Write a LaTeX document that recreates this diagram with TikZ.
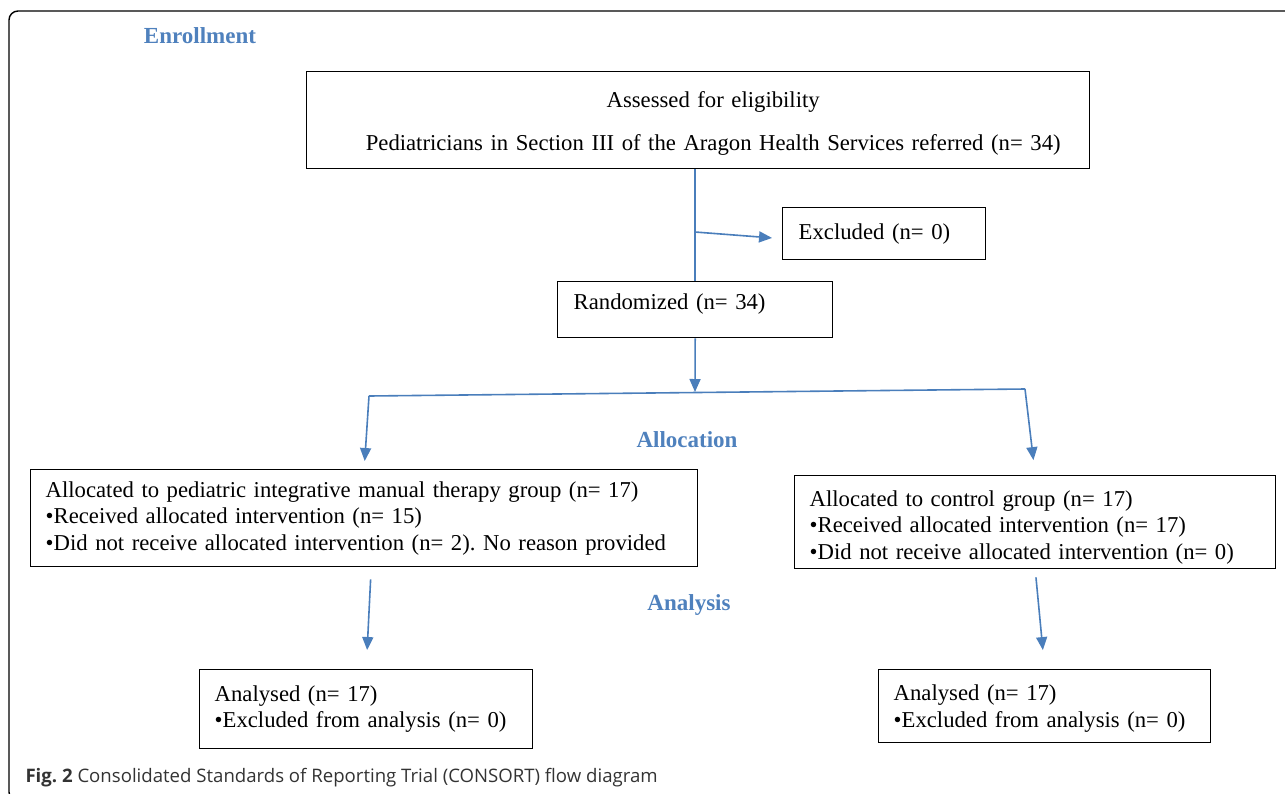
\documentclass[tikz,border=0pt]{standalone}
\usepackage{fontspec}
\setmainfont{Liberation Serif}
\newfontfamily\capfont{Open Sans}
\usepackage{tikz}
\usetikzlibrary{arrows.meta}
\usetikzlibrary{positioning}
\definecolor{phase}{RGB}{79,129,189}
\definecolor{flow}{RGB}{74,126,187}
\frenchspacing

\begin{document}
\begin{tikzpicture}[x=1pt, y=-1pt,
    every node/.append style={font=\fontsize{22.7}{26.5}\selectfont},
    box/.style={draw, line width=1.4pt, rectangle, anchor=north west, align=left,
                inner xsep=15pt, inner ysep=0pt},
    phase/.style={text=phase, font=\bfseries\fontsize{23}{26}\selectfont},
    flow/.style={draw=flow, line width=1.6pt},
    arr/.style={flow, -{Triangle[width=11pt,length=13pt]}}]
  \useasboundingbox (0,0) rectangle (1285,793);

  % frame
  \draw[line width=1.4pt, rounded corners=9pt] (22,801) -- (9,801) -- (9,11) -- (1295,11);

  \node (enrol) [phase] at (200,36) {Enrollment};
  \node (alloc) [phase] at (687,440) {Allocation};
  \node (anal)  [phase] at (689,605) {Analysis};

  \node (assess) [box, align=center, text width=753pt, minimum height=97pt] at (306,71)
        {\hspace*{30pt}\rule{0pt}{22pt}Assessed for eligibility\\[16pt]
         \hspace*{30pt}Pediatricians in Section III of the Aragon Health Services referred (n= 34)};
  \node (excluded) [box, inner xsep=16pt, text width=171pt, minimum height=52pt] at (782,207)
        {Excluded (n= 0)};
  \node (random) [box, inner xsep=16pt, text width=243pt, minimum height=56pt,
                  text height=16pt, text depth=16pt] at (557,281)
        {Randomized (n= 34)};

  \node (group1) [box, text width=637pt, minimum height=97pt] at (30,469)
        {Allocated to pediatric integrative manual therapy group (n= 17)\\
         \textbullet Received allocated intervention (n= 15)\\
         \textbullet Did not receive allocated intervention (n= 2). No reason provided};
  \node (group2) [box, text width=451pt, minimum height=93pt] at (794,475)
        {\rule{0pt}{26pt}Allocated to control group (n= 17)\\
         \textbullet Received allocated intervention (n= 17)\\
         \textbullet Did not receive allocated intervention (n= 0)};

  \node (analysed1) [box, text width=303pt, minimum height=79pt] at (199,669)
        {Analysed (n= 17)\\
         \textbullet Excluded from analysis (n= 0)};
  \node (analysed2) [box, text width=302pt, minimum height=73pt] at (878,669)
        {\rule{0pt}{20pt}Analysed (n= 17)\\
         \textbullet Excluded from analysis (n= 0)};

  \node (caption) [anchor=base west, text=black!80, font=\capfont\fontsize{18.6}{20}\selectfont]
        at (22,782) {\textbf{Fig. 2} Consolidated Standards of Reporting Trial (CONSORT) flow diagram};

  \coordinate (branch) at (695,232);
  \coordinate (split) at (695,392);
  \coordinate (lsplit) at (369,396);
  \coordinate (rsplit) at (1025,389);

  \draw[flow] (random.north |- assess.south) -- (random.north);
  \draw[arr, shorten >=10pt] (branch) -- ([yshift=-5pt]excluded.west);
  \draw[arr] (random.south) -- (split);
  \draw[flow] (lsplit) -- (rsplit);
  \draw[arr, shorten >=8pt] (lsplit) -- (group1.north);
  \draw[arr, shorten >=15pt] (rsplit) -- (group2.north);
  \draw[arr, shorten <=12pt, shorten >=19pt] ([xshift=7pt]group1.south) -- (analysed1.north);
  \draw[arr, shorten <=8pt, shorten >=19pt] (group2.south) -- (analysed2.north);
\end{tikzpicture}
\end{document}
